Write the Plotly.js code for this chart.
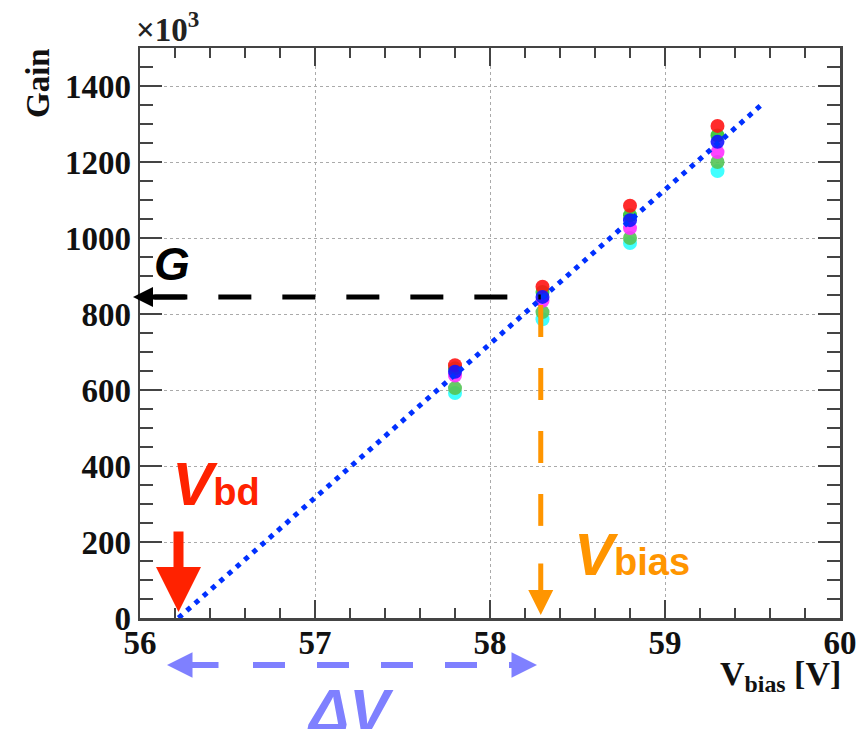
<!DOCTYPE html>
<html>
<head>
<meta charset="utf-8">
<script src="https://cdn.plot.ly/plotly-3.0.1.min.js"></script>
<style>html,body{margin:0;padding:0;background:#fff;}#chart{width:859px;height:729px;}</style>
</head>
<body>
<div id="chart"></div>
<script>
// ---- data (gain in units of 10^3) ----
const vbias = [57.8, 58.3, 58.8, 59.3];
const gainRed      = [665, 872, 1085, 1295];
const gainGreen    = [657, 858, 1060, 1270];
const gainBlue     = [648, 845, 1047, 1253];
const gainMagenta  = [638, 835, 1026, 1226];
const gainLtGreen  = [605, 805, 1000, 1200];
const gainCyan     = [592, 786, 987, 1176];
const fitX = [56.22, 59.57];
const fitY = [0, 1358];
const VBD = 56.22;      // breakdown voltage
const VBIAS = 58.29;    // operating bias
const G = 845;          // gain at VBIAS
const xTicks = [56, 57, 58, 59, 60];
const yTicks = [0, 200, 400, 600, 800, 1000, 1200, 1400];

// ---- layout helpers (pixel -> paper) ----
const L = 140, T = 48, W = 700, H = 570;
const px = p => (p - L) / W;
const py = p => (T + H - p) / H;

function pts(y, color, opacity) {
  return {x: vbias, y: y, type: 'scatter', mode: 'markers',
    marker: {size: 14, color: color, opacity: opacity || 0.9, line: {width: 0}},
    hoverinfo: 'skip', showlegend: false};
}
const traces = [
  pts(gainCyan, '#2bffff'),
  pts(gainLtGreen, '#55c455'),
  pts(gainMagenta, '#ff30ff'),
  pts(gainGreen, '#2fc42f'),
  pts(gainRed, '#ff1414'),
  pts(gainBlue, '#1414ff'),
  {x: fitX, y: fitY, type: 'scatter', mode: 'lines',
   line: {color: '#0030ff', width: 5, dash: '5px,6px'}, hoverinfo: 'skip', showlegend: false}
];

const serif = 'Liberation Serif, Times New Roman, serif';
const sans = 'Liberation Sans, Arial, sans-serif';
const axCommon = {
  showline: true, linecolor: '#444', linewidth: 2.5, mirror: 'allticks',
  ticks: 'inside', tickcolor: '#444', tickwidth: 2.5,
  showgrid: true, gridcolor: '#aaaaaa', griddash: 'dot', gridwidth: 1,
  zeroline: false, tickmode: 'array',
  tickfont: {family: serif, size: 33, color: '#111', weight: 'bold'}
};

const layout = {
  width: 859, height: 729,
  margin: {l: L, r: 859 - L - W, t: T, b: 729 - T - H},
  paper_bgcolor: '#fff', plot_bgcolor: '#fff',
  showlegend: false,
  xaxis: Object.assign({}, axCommon, {
    range: [56, 60], tickvals: xTicks, ticktext: xTicks.map(String), ticklen: 18,
    ticklabelstandoff: -6,
    minor: {dtick: 0.2, ticklen: 10, tickcolor: '#444', tickwidth: 2, ticks: 'inside', showgrid: false}
  }),
  yaxis: Object.assign({}, axCommon, {
    range: [0, 1500], tickvals: yTicks, ticktext: yTicks.map(String), ticklen: 22,
    minor: {dtick: 50, ticklen: 13, tickcolor: '#444', tickwidth: 2, ticks: 'inside', showgrid: false}
  }),
  shapes: [
    // G dashed horizontal
    {type: 'line', xref: 'x', yref: 'y', x0: 56.082, x1: VBIAS, y0: G, y1: G,
     line: {color: '#000', width: 5, dash: '33px,31px'}, layer: 'above'},
    // Vbias dashed vertical
    {type: 'line', xref: 'x', yref: 'y', x0: VBIAS, x1: VBIAS, y0: 824, y1: 237,
     line: {color: '#ff9500', width: 5, dash: '32px,31px'}, layer: 'above'},
    // Delta V dashed
    {type: 'line', xref: 'paper', yref: 'paper', x0: px(253), x1: px(512), y0: py(665), y1: py(665),
     line: {color: '#7f80ff', width: 6, dash: '32px,32px'}, layer: 'above'}
  ],
  annotations: [
    // x10^3
    {xref: 'paper', yref: 'paper', x: px(134), y: py(50), xanchor: 'left', yanchor: 'bottom',
     text: '×10<sup>3</sup>', showarrow: false, font: {family: serif, size: 33, color: '#222', weight: 'bold'}},
    // y title
    {xref: 'paper', yref: 'paper', x: px(38), y: py(46), xanchor: 'center', yanchor: 'top',
     textangle: -90, text: 'Gain', showarrow: false,
     font: {family: serif, size: 33, color: '#111', weight: 'bold'}},
    // x title
    {xref: 'paper', yref: 'paper', x: px(843), y: py(653), xanchor: 'right', yanchor: 'top',
     text: 'V<sub>bias</sub> [V]', showarrow: false,
     font: {family: serif, size: 34, color: '#111', weight: 'bold'}},
    // G arrow head
    {xref: 'paper', yref: 'y', x: px(133), y: G, ax: 54, ay: 0, text: '', showarrow: true,
     arrowhead: 2, arrowwidth: 5, arrowsize: 0.8, arrowcolor: '#000'},
    // G label
    {xref: 'paper', yref: 'paper', x: px(152), y: py(236), xanchor: 'left', yanchor: 'top',
     text: '<b><i>G</i></b>', showarrow: false,
     font: {family: sans, size: 46, color: '#000'}},
    // Vbias arrow head
    {xref: 'x', yref: 'y', x: VBIAS, y: 8, ax: 0, ay: -53, text: '', showarrow: true,
     arrowhead: 2, arrowwidth: 5, arrowsize: 1, arrowcolor: '#ff9500'},
    // Vbias label
    {xref: 'paper', yref: 'paper', x: px(572), y: py(590), xanchor: 'left', yanchor: 'bottom',
     text: '<i>V</i><span style="font-size:38px">bias</span>', showarrow: false,
     font: {family: sans, size: 60, color: '#ff9500', weight: 'bold'}},
    // Vbd arrow
    {xref: 'x', yref: 'y', x: VBD, y: 16, ax: 0, ay: -82, text: '', showarrow: true,
     arrowhead: 2, arrowwidth: 10, arrowsize: 0.9, arrowcolor: '#ff2200'},
    // Vbd label
    {xref: 'paper', yref: 'paper', x: px(170), y: py(520), xanchor: 'left', yanchor: 'bottom',
     text: '<i>V</i><span style="font-size:38px">bd</span>', showarrow: false,
     font: {family: sans, size: 62, color: '#ff2200', weight: 'bold'}},
    // Delta V arrow heads
    {xref: 'paper', yref: 'paper', x: px(167), y: py(665), ax: 53, ay: 0, text: '', showarrow: true,
     arrowhead: 2, arrowwidth: 6, arrowsize: 0.85, arrowcolor: '#7f80ff'},
    {xref: 'paper', yref: 'paper', x: px(537), y: py(665), ax: -28, ay: 0, text: '', showarrow: true,
     arrowhead: 2, arrowwidth: 6, arrowsize: 0.85, arrowcolor: '#7f80ff'},
    // Delta V label
    {xref: 'paper', yref: 'paper', x: px(350), y: py(675), xanchor: 'center', yanchor: 'top',
     text: '<i>ΔV</i>', showarrow: false,
     font: {family: sans, size: 60, color: '#7f80ff', weight: 'bold'}}
  ]
};

Plotly.newPlot('chart', traces, layout, {staticPlot: true, displayModeBar: false});
</script>
</body>
</html>
